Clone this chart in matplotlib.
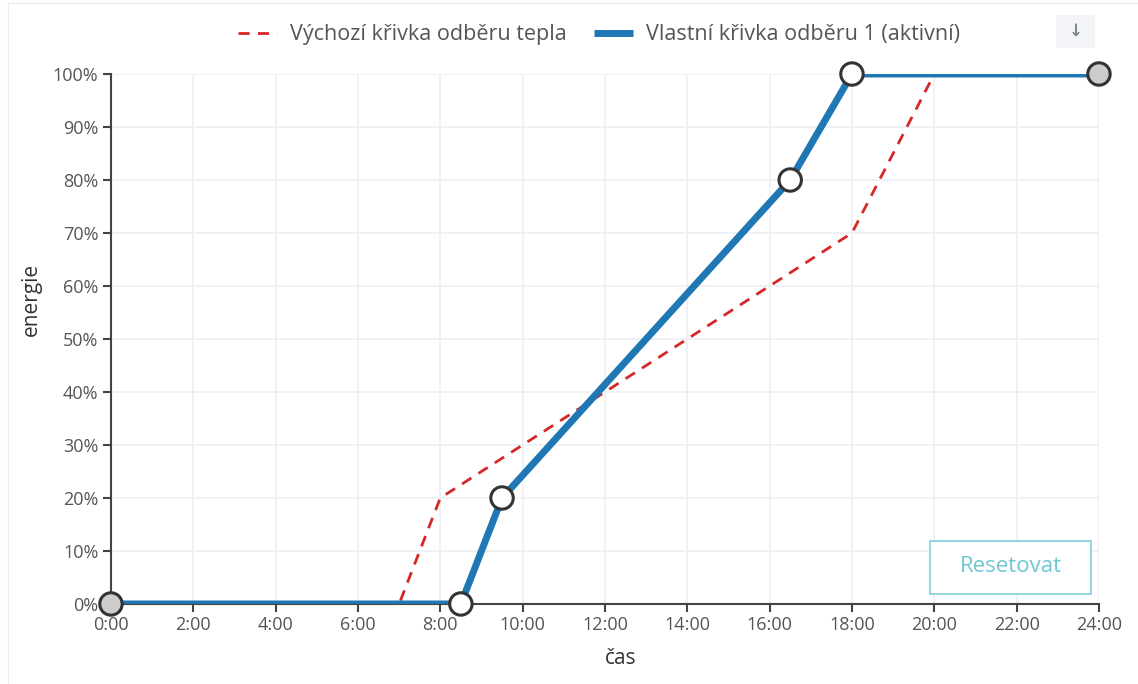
import matplotlib.pyplot as plt
import matplotlib.patches as mpatches
import numpy as np

plt.rcParams['font.family'] = ['Open Sans', 'DejaVu Sans']

# default heat demand curve (hours, % energy)
default_hours  = [0, 7, 8, 18, 20, 24]
default_energy = [0, 0, 20, 70, 100, 100]

# own curve (active)
own_hours  = [0, 8.5, 9.5, 16.5, 18, 24]
own_energy = [0, 0, 20, 80, 100, 100]

x_ticks = list(range(0, 25, 2))
x_tick_labels = ['%d:00' % h for h in x_ticks]
y_ticks = list(range(0, 101, 10))
y_tick_labels = ['%d%%' % v for v in y_ticks]

fig = plt.figure(figsize=(11.38, 6.84), dpi=100)
ax = fig.add_axes([0.0975, 0.117, 0.8682, 0.7748])

# card border
fig.patches.append(mpatches.Rectangle((0.007, -0.01), 1.0, 1.005, transform=fig.transFigure,
                                      fill=False, edgecolor='#ebedf0', linewidth=1))

ax.plot(default_hours, default_energy, color='#d62728', linestyle=(0, (4, 3)), linewidth=2,
        label='Výchozí křivka odběru tepla', zorder=3)
ax.plot(own_hours, own_energy, color='#1f77b4', linewidth=5,
        label='Vlastní křivka odběru 1 (aktivní)', zorder=4, solid_capstyle='butt')

face = ['#cccccc'] + ['white'] * (len(own_hours) - 2) + ['#cccccc']
ax.scatter(own_hours, own_energy, s=260, c=face, edgecolors='#333333', linewidths=2.2,
           zorder=5, clip_on=False)

ax.set_xlim(0, 24)
ax.set_ylim(0, 100)
ax.set_xticks(x_ticks)
ax.set_xticklabels(x_tick_labels)
ax.set_yticks(y_ticks)
ax.set_yticklabels(y_tick_labels)
ax.tick_params(colors='#444444', labelsize=13, length=6, width=1.5, pad=3)
ax.tick_params(axis='both', labelcolor='#555555')

ax.grid(True, color='#edf1f6', linewidth=1.3)
ax.set_axisbelow(True)
for s in ['top', 'right']:
    ax.spines[s].set_visible(False)
for s in ['left', 'bottom']:
    ax.spines[s].set_color('#444444')
    ax.spines[s].set_linewidth(1.5)

ax.set_xlabel('čas', fontsize=15, color='#333333', labelpad=10)
ax.xaxis.label.set_x(0.516)
ax.set_ylabel('energie', fontsize=15, color='#333333', labelpad=8)
ax.yaxis.label.set_y(0.574)

leg = ax.legend(loc='center', bbox_to_anchor=(0.494, 1.074), ncol=2, frameon=False,
                fontsize=15.5, handlelength=1.8, columnspacing=1.3, handletextpad=0.6)
for t in leg.get_texts():
    t.set_color('#555555')

# download icon
fig.patches.append(mpatches.Rectangle((0.928, 0.93), 0.034, 0.048, transform=fig.transFigure,
                                      facecolor='#f2f4f7', edgecolor='none'))
fig.text(0.945, 0.955, '↓', ha='center', va='center', fontsize=12, color='#7a8594',
         family='DejaVu Sans', fontweight='bold')

# reset button
btn = mpatches.Rectangle((0.8175, 0.1315), 0.1415, 0.0775, transform=fig.transFigure,
                         facecolor='white', edgecolor='#7fcfd9', linewidth=1.2, zorder=6)
fig.patches.append(btn)
fig.text(0.888, 0.172, 'Resetovat', ha='center', va='center', fontsize=16, color='#6cc8d4',
         zorder=7)

fig.savefig('out.png', dpi=100)
